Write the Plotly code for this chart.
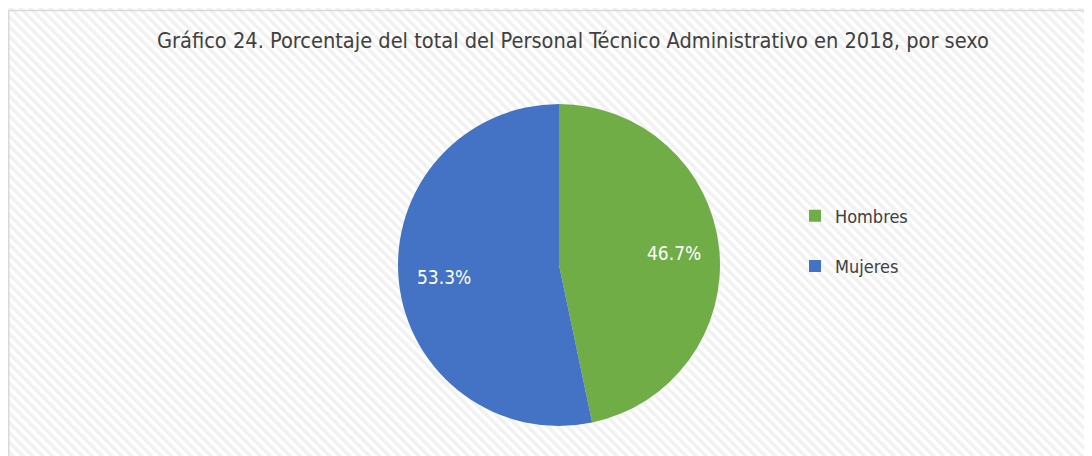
import base64
import math
import plotly.graph_objects as go

title_text = "Gráfico 24. Porcentaje del total del Personal Técnico Administrativo en 2018, por sexo"
categories = ["Hombres", "Mujeres"]
values = [46.7, 53.3]
colors = ["#70AD47", "#4472C4"]

# the page body adds an 8px offset; work in screen pixels and convert
OFF = 8
W, H = 1084, 448
FONT = "DejaVu Sans Condensed, Liberation Sans Narrow, Roboto Condensed, sans-serif"

svg = (
    f'<svg xmlns="http://www.w3.org/2000/svg" width="{W}" height="{H}">'
    '<defs><pattern id="p" width="7" height="7" patternUnits="userSpaceOnUse" patternTransform="rotate(-45)">'
    '<rect width="7" height="7" fill="#ffffff"/><rect width="3.5" height="7" fill="#f1f1f1"/>'
    '</pattern></defs><rect width="100%" height="100%" fill="url(#p)"/></svg>'
)
bg_uri = "data:image/svg+xml;base64," + base64.b64encode(svg.encode()).decode()


def px(x):
    return (x - OFF) / W


def py(y):
    return (H - (y - OFF)) / H


# pie geometry (screen px)
CX, CY, R = 559, 265, 161

fig = go.Figure()
fig.add_trace(go.Pie(
    labels=categories,
    values=values,
    sort=False,
    direction="clockwise",
    rotation=0,
    marker=dict(colors=colors, line=dict(width=0)),
    textinfo="none",
    hoverinfo="label+percent",
    showlegend=False,
    domain=dict(x=[px(CX - R), px(CX + R)], y=[py(CY + R), py(CY - R)]),
))

# percentage labels placed at each slice's mid-angle
total = sum(values)
cum = 0.0
annotations = []
for v in values:
    mid = (cum + v / 2) / total * 2 * math.pi
    cum += v
    lx = CX + 0.72 * R * math.sin(mid)
    ly = CY - 0.72 * R * math.cos(mid)
    annotations.append(dict(
        x=px(lx), y=py(ly), xref="paper", yref="paper", showarrow=False,
        text=f"{v / total * 100:.1f}%", xanchor="center", yanchor="middle",
        font=dict(family=FONT, size=19, color="#ffffff"),
    ))

for cat, col in zip(categories, colors):
    fig.add_trace(go.Scatter(
        x=[None], y=[None], mode="markers", name=cat,
        marker=dict(symbol="square", size=11, color=col),
        legendgroup=cat, showlegend=True, hoverinfo="skip",
    ))

fig.update_layout(
    width=W, height=H,
    margin=dict(l=0, r=0, t=0, b=0),
    paper_bgcolor="#ffffff",
    plot_bgcolor="rgba(0,0,0,0)",
    xaxis=dict(visible=False),
    yaxis=dict(visible=False),
    title=dict(
        text=title_text, x=px(573), xanchor="center", y=py(40), yanchor="middle",
        font=dict(family=FONT, size=21.6, color="#404040"),
    ),
    legend=dict(
        x=px(795), y=py(241), xanchor="left", yanchor="middle",
        font=dict(family=FONT, size=18, color="#404040"),
        bgcolor="rgba(0,0,0,0)", traceorder="grouped", tracegroupgap=24,
        itemsizing="constant",
    ),
    annotations=annotations,
    images=[dict(
        source=bg_uri, xref="paper", yref="paper", x=0, y=1,
        sizex=1, sizey=1, sizing="stretch", layer="below", xanchor="left", yanchor="top",
    )],
    shapes=[dict(
        type="rect", xref="paper", yref="paper",
        x0=0.0007, x1=1.02, y0=-0.02, y1=py(10.5),
        line=dict(color="#d9d9d9", width=1.5), fillcolor="rgba(0,0,0,0)",
    )],
)

fig.write_html("out.html")
